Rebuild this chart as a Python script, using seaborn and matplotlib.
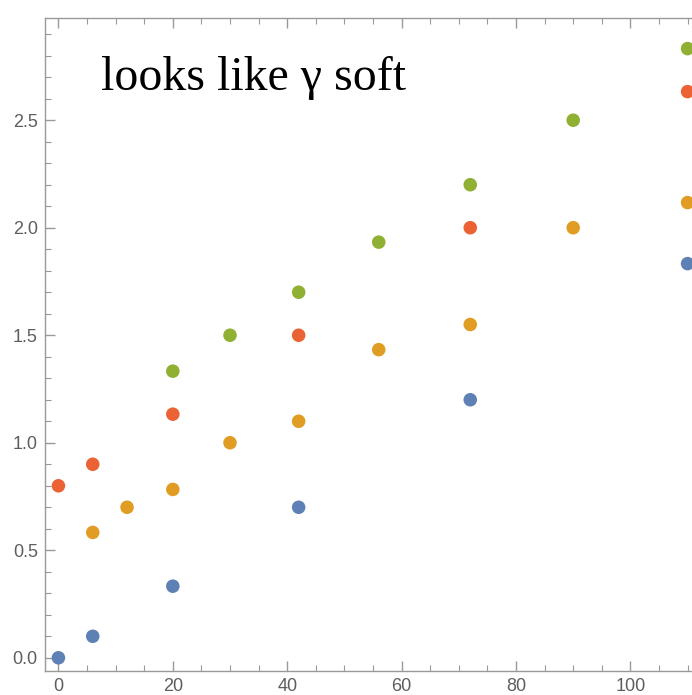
import matplotlib
matplotlib.use("Agg")
import matplotlib.pyplot as plt
import matplotlib.ticker as mticker
import pandas as pd
import seaborn as sns

# x positions are l(l+1)
blue_x = [0, 6, 20, 42, 72, 110]
blue_y = [0.0, 0.1, 0.333, 0.7, 1.2, 1.833]

orange_x = [6, 12, 20, 30, 42, 56, 72, 90, 110]
orange_y = [0.583, 0.7, 0.783, 1.0, 1.1, 1.433, 1.55, 2.0, 2.117]

green_x = [20, 30, 42, 56, 72, 90, 110]
green_y = [1.333, 1.5, 1.7, 1.933, 2.2, 2.5, 2.833]

red_x = [0, 6, 20, 42, 72, 110]
red_y = [0.8, 0.9, 1.133, 1.5, 2.0, 2.633]

series = ["blue", "orange", "green", "red"]
palette = ["#5E81B5", "#E19C24", "#8FB032", "#EB6235"]

frames = []
for name, xs, ys in [("blue", blue_x, blue_y), ("orange", orange_x, orange_y),
                     ("green", green_x, green_y), ("red", red_x, red_y)]:
    frames.append(pd.DataFrame({"x": xs, "y": ys, "s": name}))
df = pd.concat(frames, ignore_index=True)

sns.set_theme(style="ticks")
plt.rcParams["font.family"] = ["Liberation Sans", "DejaVu Sans"]

fig = plt.figure(figsize=(6.92, 6.95), dpi=100)
ax = fig.add_axes([44.7 / 692, 24.3 / 695, 671.5 / 692, 652.2 / 695])

sns.scatterplot(data=df, x="x", y="y", hue="s", hue_order=series,
                palette=palette, s=95, linewidth=0, legend=False, ax=ax,
                clip_on=False)

ax.set_xlim(-2.4, 115)
ax.set_ylim(-0.06, 2.973)
ax.set_xlabel("")
ax.set_ylabel("")

ax.xaxis.set_major_locator(mticker.MultipleLocator(20))
ax.xaxis.set_minor_locator(mticker.MultipleLocator(5))
ax.yaxis.set_major_locator(mticker.MultipleLocator(0.5))
ax.yaxis.set_minor_locator(mticker.MultipleLocator(0.1))
ax.yaxis.set_major_formatter(mticker.FormatStrFormatter("%.1f"))

frame_col = "#999999"
for sp in ax.spines.values():
    sp.set_color(frame_col)
    sp.set_linewidth(1.0)

ax.tick_params(which="both", direction="in", top=True, right=True,
               color=frame_col, labelcolor="#5e5e5e", labelsize=13)
ax.tick_params(which="major", length=7, width=1, pad=5)
ax.tick_params(which="minor", length=4, width=0.8)

ax.text(7.5, 2.64, "looks like \u03b3 soft", fontsize=34.5,
        family=["Liberation Serif", "DejaVu Serif"], color="black")

fig.savefig("out.png", dpi=100)
plt.close(fig)
